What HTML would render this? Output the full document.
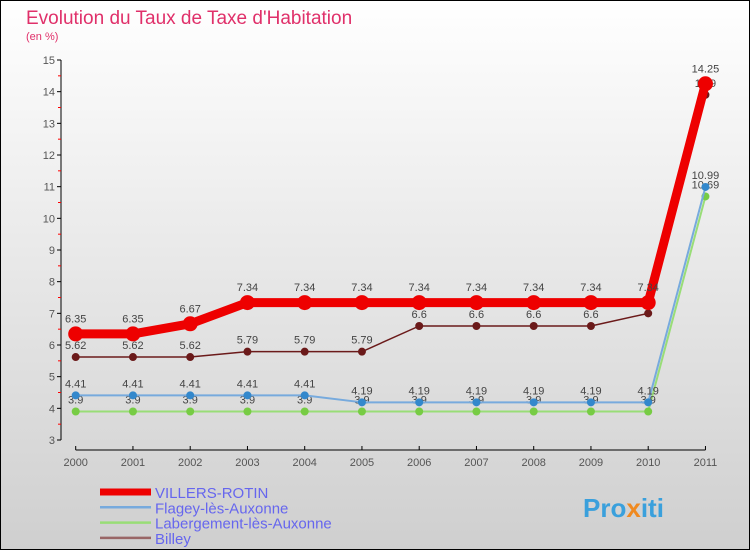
<!DOCTYPE html>
<html><head><meta charset="utf-8"><style>
html,body{margin:0;padding:0;}
body{width:750px;height:550px;overflow:hidden;font-family:"Liberation Sans",sans-serif;}
</style></head><body>
<svg id="chart" width="750" height="550" xmlns="http://www.w3.org/2000/svg">
<defs><linearGradient id="bg" x1="0" y1="0" x2="0" y2="1"><stop offset="0" stop-color="#ffffff"/><stop offset="1" stop-color="#cfcfcf"/></linearGradient></defs>
<rect x="0.5" y="0.5" width="749" height="549" fill="url(#bg)" stroke="#000"/>
<text x="26" y="24" font-size="19" fill="#e0306a">Evolution du Taux de Taxe d'Habitation</text>
<text x="26" y="40" font-size="11" fill="#e0306a">(en %)</text>
<g id="axes"></g><g id="series"></g><g id="legend"></g>
<text x="583" y="517" font-size="26" font-weight="bold" fill="#3aa0dc">Pro<tspan fill="#f08a20">x</tspan>iti</text>
</svg>
<script>
const years=[2000,2001,2002,2003,2004,2005,2006,2007,2008,2009,2010,2011];
const yTicks=[3,4,5,6,7,8,9,10,11,12,13,14,15];
const villers=[6.35,6.35,6.67,7.34,7.34,7.34,7.34,7.34,7.34,7.34,7.34,14.25];
const flagey=[4.41,4.41,4.41,4.41,4.41,4.19,4.19,4.19,4.19,4.19,4.19,10.99];
const labergement=[3.9,3.9,3.9,3.9,3.9,3.9,3.9,3.9,3.9,3.9,3.9,10.69];
const billey=[5.62,5.62,5.62,5.79,5.79,5.79,6.6,6.6,6.6,6.6,7,13.9];
const seriesNames=["VILLERS-ROTIN","Flagey-lès-Auxonne","Labergement-lès-Auxonne","Billey"];
const NS="http://www.w3.org/2000/svg";
const xs=i=>75.7+i*57.25;
const ys=v=>440-(v-3)*(380/12);
function mk(tag,attrs,parent,txt){const e=document.createElementNS(NS,tag);for(const k in attrs)e.setAttribute(k,attrs[k]);if(txt!==undefined)e.textContent=txt;parent.appendChild(e);return e;}
const axes=document.getElementById('axes');
let a=mk('line',{x1:61,y1:ys(15),x2:61,y2:ys(3),stroke:'#000'},axes);


a=mk('line',{x1:xs(0),y1:450,x2:xs(11),y2:450,stroke:'#000'},axes);


yTicks.forEach((v,i)=>{
  mk('line',{x1:57,y1:ys(v),x2:61,y2:ys(v),stroke:'#000'},axes);
  if(i<yTicks.length-1)mk('line',{x1:58,y1:ys(v+0.5),x2:61,y2:ys(v+0.5),stroke:'#f00'},axes);
  const t=mk('text',{x:55,y:ys(v)+4,'font-size':11,fill:'#555','text-anchor':'end'},axes,String(v));
  
  
});
years.forEach((y,i)=>{
  mk('line',{x1:xs(i),y1:446,x2:xs(i),y2:450,stroke:'#000'},axes);
  const t=mk('text',{x:xs(i),y:466,'font-size':11,fill:'#555','text-anchor':'middle'},axes,String(y));
  
  
});
const sg=document.getElementById('series');
const defs=[
 {d:labergement,c:'#99dd77',dot:'#77cc44',w:2,r:4,name:'labergement'},
 {d:flagey,c:'#77aadd',dot:'#3388cc',w:2,r:4,name:'flagey'},
 {d:billey,c:'#6b1a1a',dot:'#6b1a1a',w:1.5,r:4,name:'billey'},
 {d:villers,c:'#ee0000',dot:'#ee0000',w:9,r:7.5,name:'villers-rotin'}];
defs.forEach(s=>{
  const g=mk('g',{},sg);
  
  
  const p=mk('polyline',{points:s.d.map((v,i)=>xs(i)+','+ys(v)).join(' '),fill:'none',stroke:s.c,'stroke-width':s.w,'stroke-linejoin':'round'},g);
  
  
  s.d.forEach((v,i)=>{
    const c=mk('circle',{cx:xs(i),cy:ys(v),r:s.r,fill:s.dot},g);
    
    
    const t=mk('text',{x:xs(i),y:ys(v)-(s.r+4),'font-size':11,fill:'#444','text-anchor':'middle'},g,String(v));
    
    
  });
});
const lg=document.getElementById('legend');
const lc=['#ee0000','#77aadd','#99dd77','#996666'];
const lw=[7,2.5,2.5,2.5];
seriesNames.forEach((n,i)=>{
  const y=492+i*15.3;
  const l=mk('line',{x1:100,y1:y,x2:151,y2:y,stroke:lc[i],'stroke-width':lw[i]},lg);
  
  
  const t=mk('text',{x:155,y:y+6,'font-size':15,fill:'#6666ee'},lg,n);
  
  
});
</script>
</body></html>
